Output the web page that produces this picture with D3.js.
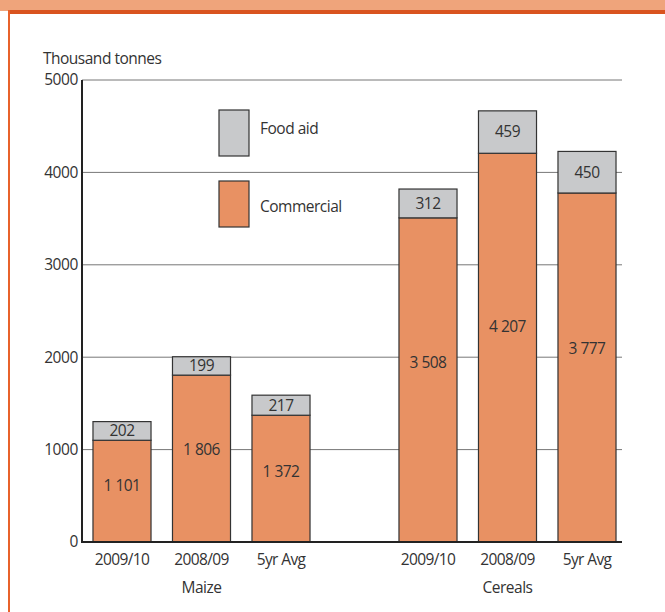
<!DOCTYPE html>
<html>
<head>
<meta charset="utf-8">
<script src="https://cdn.jsdelivr.net/npm/d3@7"></script>
<style>
  html, body { margin: 0; padding: 0; background: #fff; }
  svg { display: block; font-family: "Open Sans", "Noto Sans", sans-serif; }
</style>
</head>
<body>
<svg id="chart" width="665" height="612"></svg>
<script>
// Imports of maize and cereals, thousand tonnes
const groups = ["Maize", "Cereals"];
const periods = ["2009/10", "2008/09", "5yr Avg"];
const commercial = {
  "Maize":   [1101, 1806, 1372],
  "Cereals": [3508, 4207, 3777]
};
const foodAid = {
  "Maize":   [202, 199, 217],
  "Cereals": [312, 459, 450]
};
const yTicks = [0, 1000, 2000, 3000, 4000, 5000];
const seriesNames = ["Food aid", "Commercial"];

const colors = { "Food aid": "#c8c9cb", "Commercial": "#e89163" };
const ink = "#333";
const fs = 15.5;

const svg = d3.select("#chart");

// Frame: orange header band and left rule
svg.append("rect").attr("x", 0).attr("y", 0).attr("width", 665).attr("height", 11).attr("fill", "#efa47b");
svg.append("rect").attr("x", 8).attr("y", 10).attr("width", 657).attr("height", 4).attr("fill", "#d9541f");
svg.append("rect").attr("x", 8).attr("y", 10).attr("width", 2).attr("height", 602).attr("fill", "#e8622b");

const plotLeft = 82, plotRight = 622, plotTop = 80, plotBottom = 542;

const y = d3.scaleLinear().domain([0, 5000]).range([plotBottom, plotTop]);
const x0 = d3.scalePoint().domain(groups).range([201.5, 507.5]);
const x1 = d3.scaleBand().domain(periods).range([-119.25, 119.25])
  .paddingInner(0.27).paddingOuter(0.135);

// Gridlines
svg.append("g").selectAll("line")
  .data(yTicks.filter(t => t > 0))
  .join("line")
  .attr("x1", plotLeft).attr("x2", plotRight)
  .attr("y1", d => y(d)).attr("y2", d => y(d))
  .attr("stroke", "#777").attr("stroke-width", 1);

// Y axis labels
const yAxis = d3.axisLeft(y).tickValues(yTicks).tickSize(0).tickPadding(4).tickFormat(d3.format("d"));
const yg = svg.append("g").attr("transform", `translate(${plotLeft},0)`).call(yAxis);
yg.select(".domain").remove();
yg.selectAll("text").attr("font-size", fs).attr("fill", ink)
  .attr("font-family", "'Open Sans', sans-serif").attr("letter-spacing", -0.4);

svg.append("text").attr("x", 43).attr("y", 64)
  .attr("font-size", fs).attr("fill", ink).attr("letter-spacing", -0.5)
  .text("Thousand tonnes");

// Bars
const rows = [];
groups.forEach(g => periods.forEach((p, i) => {
  rows.push({ group: g, period: p, commercial: commercial[g][i], aid: foodAid[g][i] });
}));

const bx = d => x0(d.group) + x1(d.period);
const bars = svg.append("g");

bars.selectAll("rect.commercial").data(rows).join("rect")
  .attr("class", "commercial")
  .attr("x", bx).attr("width", x1.bandwidth())
  .attr("y", d => y(d.commercial))
  .attr("height", d => y(0) - y(d.commercial))
  .attr("fill", colors["Commercial"]).attr("stroke", ink).attr("stroke-width", 1.2);

bars.selectAll("rect.aid").data(rows).join("rect")
  .attr("class", "aid")
  .attr("x", bx).attr("width", x1.bandwidth())
  .attr("y", d => y(d.commercial + d.aid))
  .attr("height", d => y(d.commercial) - y(d.commercial + d.aid))
  .attr("fill", colors["Food aid"]).attr("stroke", ink).attr("stroke-width", 1.2);

const fmtSpace = v => d3.format(",")(v).replace(/,/g, " ");

bars.selectAll("text.aid").data(rows).join("text")
  .attr("class", "aid")
  .attr("x", d => bx(d) + x1.bandwidth() / 2)
  .attr("y", d => y(d.commercial + d.aid / 2))
  .attr("dy", "0.35em").attr("text-anchor", "middle")
  .attr("font-size", fs).attr("fill", ink).attr("letter-spacing", -0.5)
  .text(d => fmtSpace(d.aid));

bars.selectAll("text.commercial").data(rows).join("text")
  .attr("class", "commercial")
  .attr("x", d => bx(d) + x1.bandwidth() / 2)
  .attr("y", d => y(d.commercial * 0.555))
  .attr("dy", "0.35em").attr("text-anchor", "middle")
  .attr("font-size", fs).attr("fill", ink).attr("letter-spacing", -0.5)
  .text(d => fmtSpace(d.commercial));

// Axis lines
svg.append("line").attr("x1", plotLeft).attr("x2", plotLeft)
  .attr("y1", plotTop).attr("y2", plotBottom + 1)
  .attr("stroke", "#222").attr("stroke-width", 2);
svg.append("line").attr("x1", plotLeft).attr("x2", plotRight)
  .attr("y1", plotBottom).attr("y2", plotBottom)
  .attr("stroke", "#222").attr("stroke-width", 2);

// Category and group labels
svg.append("g").selectAll("text").data(rows).join("text")
  .attr("x", d => bx(d) + x1.bandwidth() / 2)
  .attr("y", 560).attr("dy", "0.35em").attr("text-anchor", "middle")
  .attr("font-size", fs).attr("fill", ink).attr("letter-spacing", -0.6)
  .text(d => d.period);

svg.append("g").selectAll("text").data(groups).join("text")
  .attr("x", d => x0(d)).attr("y", 588).attr("dy", "0.35em")
  .attr("text-anchor", "middle")
  .attr("font-size", fs).attr("fill", ink).attr("letter-spacing", -0.5)
  .text(d => d);

// Legend: swatch with label beside it
const legendLabelOffset = [19, 26];
const legend = svg.append("g").selectAll("g").data(seriesNames).join("g")
  .attr("transform", (d, i) => `translate(219,${110 + i * 71})`);
legend.append("rect").attr("width", 30).attr("height", 46)
  .attr("fill", d => colors[d]).attr("stroke", ink).attr("stroke-width", 1.2);
legend.append("text").attr("x", 41).attr("y", (d, i) => legendLabelOffset[i]).attr("dy", "0.35em")
  .attr("font-size", fs).attr("fill", ink).attr("letter-spacing", -0.5)
  .text(d => d);
</script>
</body>
</html>
